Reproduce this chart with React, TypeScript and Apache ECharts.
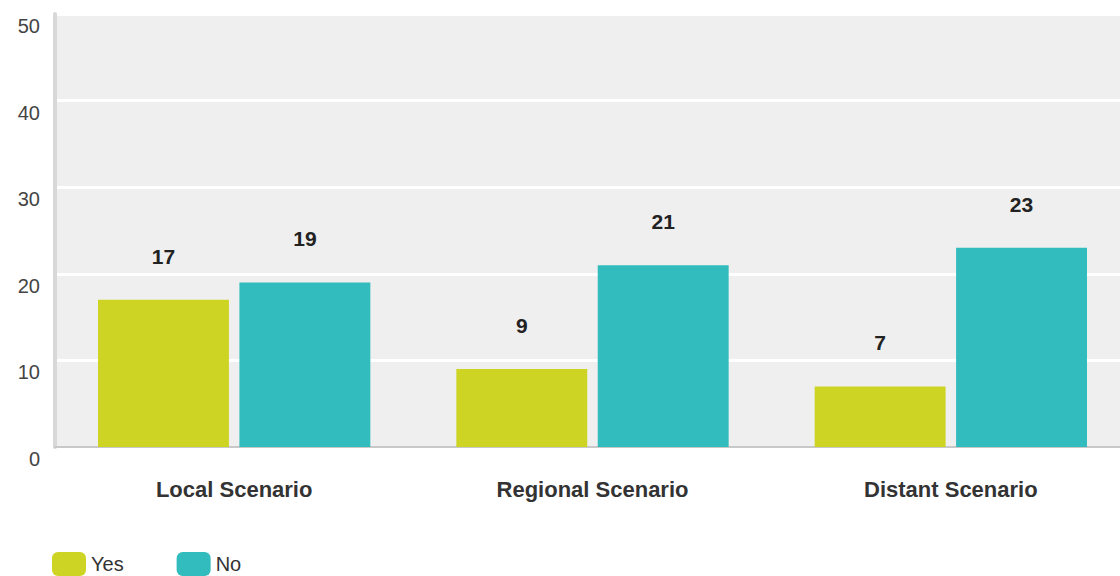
import React, { useEffect, useRef } from "react";
import * as echarts from "echarts";

const categories = ["Local Scenario", "Regional Scenario", "Distant Scenario"];
const yesValues = [17, 9, 7];
const noValues = [19, 21, 23];
const seriesNames = ["Yes", "No"];

export default function App() {
  const ref = useRef<HTMLDivElement>(null);
  useEffect(() => {
    if (!ref.current) return;
    const chart = echarts.init(ref.current, undefined, { renderer: "svg" });
    const labelStyle = {
      show: true,
      position: "top" as const,
      distance: 33,
      fontSize: 21,
      fontWeight: "bold" as const,
      color: "#222",
      fontFamily: "Liberation Sans, Arial, sans-serif",
    };
    chart.setOption({
      animation: false,
      textStyle: { fontFamily: "Liberation Sans, Arial, sans-serif" },
      grid: {
        left: 55,
        right: 0,
        top: 14,
        bottom: 129,
        show: true,
        backgroundColor: "#efefef",
        borderWidth: 0,
        containLabel: false,
      },
      legend: {
        left: 47,
        top: 547,
        itemWidth: 34,
        itemHeight: 24,
        itemGap: 53,
        icon: "roundRect",
        textStyle: { fontSize: 20, color: "#333" },
        data: seriesNames,
      },
      xAxis: {
        type: "category",
        data: categories,
        axisLine: { show: true, lineStyle: { color: "#c8c8c8", width: 2 } },
        axisTick: { show: false },
        axisLabel: {
          margin: 31,
          fontSize: 22,
          fontWeight: "bold",
          color: "#333",
        },
      },
      yAxis: {
        type: "value",
        min: 0,
        max: 50,
        interval: 10,
        axisLine: { show: true, lineStyle: { color: "#d8d8d8", width: 4 } },
        axisTick: { show: false },
        splitLine: { show: true, lineStyle: { color: "#ffffff", width: 3 } },
        axisLabel: {
          margin: 15,
          fontSize: 20,
          color: "#444",
          verticalAlign: "top",
          padding: [2, 0, 0, 0],
        },
      },
      series: [
        {
          name: seriesNames[0],
          type: "bar",
          data: yesValues,
          barGap: "8%",
          barCategoryGap: "24%",
          itemStyle: { color: "#cdd423" },
          label: labelStyle,
        },
        {
          name: seriesNames[1],
          type: "bar",
          data: noValues,
          barGap: "8%",
          barCategoryGap: "24%",
          itemStyle: { color: "#32bcbe" },
          label: labelStyle,
        },
      ],
    });
    return () => chart.dispose();
  }, []);
  return (
    <div style={{ position: "absolute", left: 0, top: 0, width: 1120, height: 576, overflow: "hidden", background: "#fff" }}>
      <div ref={ref} style={{ width: 1130, height: 576 }} />
    </div>
  );
}
